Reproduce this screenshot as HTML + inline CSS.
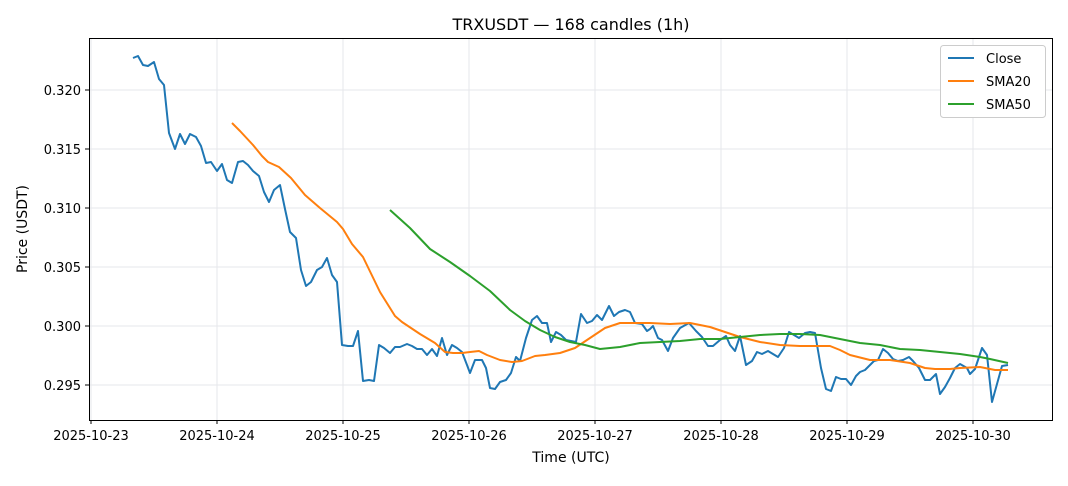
<!DOCTYPE html>
<html><head><meta charset="utf-8"><style>
body{margin:0;background:#fff;font-family:"Liberation Sans","DejaVu Sans",sans-serif}
svg text{font-family:"DejaVu Sans","Liberation Sans",sans-serif;fill:#000}
</style></head><body>
<svg width="1068" height="481" viewBox="0 0 1068 481" xmlns="http://www.w3.org/2000/svg">
<rect width="1068" height="481" fill="#fff"/>
<g stroke="#e5e7eb" stroke-width="1">
<line x1="91" y1="39" x2="91" y2="420"/><line x1="217" y1="39" x2="217" y2="420"/><line x1="343" y1="39" x2="343" y2="420"/><line x1="469" y1="39" x2="469" y2="420"/><line x1="595" y1="39" x2="595" y2="420"/><line x1="721" y1="39" x2="721" y2="420"/><line x1="847" y1="39" x2="847" y2="420"/><line x1="973" y1="39" x2="973" y2="420"/>
<line x1="89" y1="90" x2="1052" y2="90"/><line x1="89" y1="149" x2="1052" y2="149"/><line x1="89" y1="208" x2="1052" y2="208"/><line x1="89" y1="267" x2="1052" y2="267"/><line x1="89" y1="326" x2="1052" y2="326"/><line x1="89" y1="385" x2="1052" y2="385"/>
</g>
<polyline fill="none" stroke="#1f77b4" stroke-width="2" stroke-linejoin="round" points="133,58 138,56 143,65 148,66 154,62 159,79 164,85 169,133 175,149 180,134 185,144 190,134 196,137 201,146 206,163 211,162 217,171 222,164 227,180 232,183 238,162 243,161 248,165 253,171 259,176 264,192 269,202 274,190 280,185 285,209 290,232 296,238 301,270 306,286 311,282 317,270 322,267 327,258 332,275 337,282 342,345 348,346 353,346 358,331 363,381 369,380 374,381 379,345 384,348 390,353 395,347 400,347 407,344 412,346 417,349 422,349 427,355 432,349 437,356 442,338 447,355 452,345 457,348 462,352 467,365 470,373 475,360 482,360 486,368 490,388 495,389 500,382 506,380 511,373 516,357 520,361 526,338 532,320 537,316 542,323 547,323 551,342 556,332 561,335 566,340 571,341 576,342 581,314 587,323 592,321 597,315 602,320 609,306 614,316 619,312 625,310 630,312 635,323 642,324 647,331 650,329 653,326 658,338 662,340 668,351 673,338 680,328 689,323 696,331 702,337 708,346 713,346 720,340 726,336 730,345 735,351 740,336 746,365 752,361 757,352 762,354 768,351 773,354 778,357 784,348 789,332 794,335 799,338 805,333 810,332 815,333 821,368 826,389 831,391 836,377 841,379 846,379 851,385 856,376 860,372 865,370 870,365 874,361 878,360 883,349 888,353 893,359 898,361 903,360 909,357 913,361 919,368 925,380 930,380 936,374 940,394 945,387 950,378 955,368 960,364 967,368 970,374 975,369 982,348 987,355 992,402 997,384 1002,366 1008,365"/>
<polyline fill="none" stroke="#ff7f0e" stroke-width="2" stroke-linejoin="round" points="232,123 240,131 253,145 262,156 268,162 279,167 291,178 305,195 320,208 337,222 343,229 352,244 363,257 380,292 395,316 402,322 420,334 435,343 445,352 453,353 462,353 470,352 479,351 487,355 500,360 512,362 522,361 535,356 545,355 560,353 575,348 590,338 605,328 620,323 635,323 650,323 670,324 690,323 710,327 725,332 740,337 760,342 780,345 800,346 815,346 830,346 840,350 850,355 870,360 890,360 910,363 925,368 935,369 950,369 960,368 980,367 995,370 1008,370"/>
<polyline fill="none" stroke="#2ca02c" stroke-width="2" stroke-linejoin="round" points="390,210 410,228 430,249 450,262 470,276 490,291 510,310 525,321 540,330 555,337 570,342 585,345 600,349 620,347 640,343 660,342 680,341 700,339 720,339 740,337 760,335 780,334 800,334 820,335 840,339 860,343 880,345 900,349 920,350 940,352 960,354 980,357 990,359 1008,363"/>
<rect x="89.5" y="38.5" width="963" height="382" fill="none" stroke="#000" stroke-width="1"/>
<g stroke="#000"><line x1="91" y1="420" x2="91" y2="424"/><line x1="217" y1="420" x2="217" y2="424"/><line x1="343" y1="420" x2="343" y2="424"/><line x1="469" y1="420" x2="469" y2="424"/><line x1="595" y1="420" x2="595" y2="424"/><line x1="721" y1="420" x2="721" y2="424"/><line x1="847" y1="420" x2="847" y2="424"/><line x1="973" y1="420" x2="973" y2="424"/>
<line x1="85" y1="90" x2="89" y2="90"/><line x1="85" y1="149" x2="89" y2="149"/><line x1="85" y1="208" x2="89" y2="208"/><line x1="85" y1="267" x2="89" y2="267"/><line x1="85" y1="326" x2="89" y2="326"/><line x1="85" y1="385" x2="89" y2="385"/></g>
<g font-size="13" text-anchor="middle"><text x="91" y="440">2025-10-23</text><text x="217" y="440">2025-10-24</text><text x="343" y="440">2025-10-25</text><text x="469" y="440">2025-10-26</text><text x="595" y="440">2025-10-27</text><text x="721" y="440">2025-10-28</text><text x="847" y="440">2025-10-29</text><text x="973" y="440">2025-10-30</text></g>
<g font-size="13" text-anchor="end"><text x="81" y="95">0.320</text><text x="81" y="154">0.315</text><text x="81" y="213">0.310</text><text x="81" y="272">0.305</text><text x="81" y="331">0.300</text><text x="81" y="390">0.295</text></g>
<text x="571" y="462" font-size="14" text-anchor="middle">Time (UTC)</text>
<text x="27" y="229" font-size="14" text-anchor="middle" transform="rotate(-90 27 229)">Price (USDT)</text>
<text x="571" y="30" font-size="16" text-anchor="middle">TRXUSDT — 168 candles (1h)</text>
<rect x="940.5" y="45.5" width="105" height="72" rx="3" fill="#fff" stroke="#ccc"/>
<line x1="948" y1="58" x2="974" y2="58" stroke="#1f77b4" stroke-width="2"/><text x="986" y="63" font-size="13">Close</text>
<line x1="948" y1="81" x2="974" y2="81" stroke="#ff7f0e" stroke-width="2"/><text x="986" y="86" font-size="13">SMA20</text>
<line x1="948" y1="104" x2="974" y2="104" stroke="#2ca02c" stroke-width="2"/><text x="986" y="109" font-size="13">SMA50</text>
</svg>
</body></html>
